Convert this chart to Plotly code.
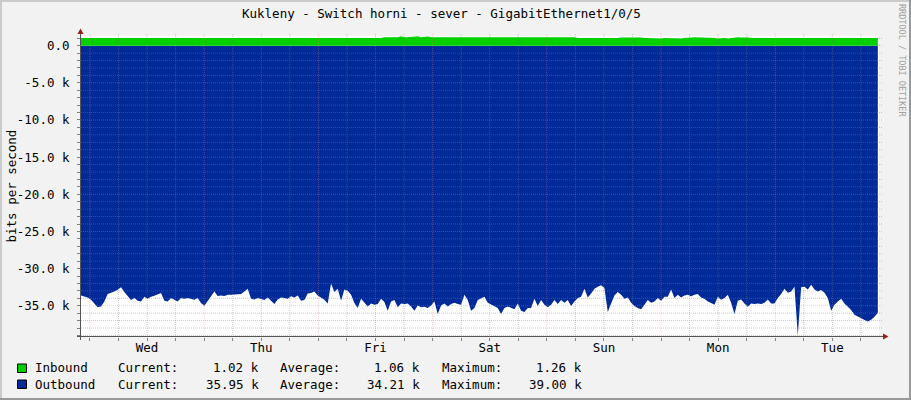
#!/usr/bin/env python3
# -*- coding: utf-8 -*-
"""
RRDtool-style traffic graph (Cacti look) for one switch port, redrawn with Plotly.
Inbound is drawn up from zero, outbound is mirrored below zero.

Output: out.html
"""

import plotly.graph_objects as go

# ── data (kbit/s, one sample every ~42 min) ───────────────────────────────────
inbound_k = [
    1.03, 1.03, 0.96, 1.03, 1.02, 0.96, 1.03, 1.03, 0.96, 1.04, 1.03, 0.96,
    1.03, 1.03, 0.96, 1.03, 1.02, 0.96, 1.03, 1.03, 0.96, 1.04, 1.03, 0.96,
    1.03, 1.03, 0.96, 1.03, 1.02, 0.96, 1.03, 1.03, 0.96, 1.04, 1.03, 0.96,
    1.03, 1.03, 0.96, 1.03, 1.02, 0.96, 1.03, 1.03, 0.96, 1.04, 1.03, 0.96,
    1.03, 1.03, 0.96, 1.03, 1.02, 0.96, 1.03, 1.03, 0.96, 1.04, 1.03, 0.96,
    1.03, 1.03, 0.96, 1.03, 1.02, 0.96, 1.03, 1.03, 0.96, 1.04, 1.03, 0.96,
    1.03, 1.03, 0.96, 1.03, 1.02, 0.96, 1.03, 1.03, 0.96, 1.04, 1.03, 0.96,
    1.03, 1.03, 0.96, 1.03, 1.02, 0.96, 1.03,
    1.14, 1.15, 1.15, 1.16, 1.15, 1.26, 1.15, 1.15, 1.16, 1.15, 1.26, 1.15,
    1.16, 1.25, 1.15, 1.15, 1.16, 1.15, 1.15, 1.16, 1.24, 1.15, 1.15, 1.24,
    1.15, 1.16, 1.15, 1.15, 1.16, 1.15, 1.15, 1.16, 1.15, 1.15, 1.16, 1.15,
    1.15, 1.16, 1.15, 1.15, 1.16, 1.15, 1.15, 1.16, 1.15, 1.15, 1.16, 1.15,
    1.15, 1.16, 1.15, 1.15, 1.16, 1.15, 1.15, 1.16, 1.15, 1.15,
    1.03, 1.03, 0.96, 1.03, 1.03, 0.96, 1.03, 1.03, 0.96, 1.03, 1.03, 0.96,
    1.03,
    1.12, 1.13, 1.12, 1.12, 1.13, 1.12, 1.12,
    1.04, 1.03, 0.97, 1.04, 1.03, 0.97, 1.04, 1.03, 0.97, 1.04, 1.03, 0.97,
    1.04, 1.03,
    1.12, 1.13, 1.12, 1.12, 1.13, 1.12,
    1.04, 1.03, 0.97, 1.04, 1.03, 0.97, 1.04,
    1.12, 1.13, 1.12, 1.13, 1.12,
    1.03, 1.03, 0.96, 1.03, 1.02, 0.96, 1.03, 1.03, 0.96, 1.04, 1.03, 0.96,
    1.03, 1.03, 0.96, 1.03, 1.02, 0.96, 1.03, 1.03, 0.96, 1.04, 1.03, 0.96,
    1.03, 1.03, 0.96, 1.03, 1.02, 0.96, 1.03, 1.03, 0.96, 1.04, 1.03, 0.96,
    1.03, 1.03, 1.02,
]

outbound_k = [
    33.61, 33.79, 33.88, 34.19, 34.64, 35.22, 35.09, 34.42, 33.43, 33.30,
    33.07, 32.85, 32.53, 33.16, 33.74, 34.24, 33.97, 34.33, 34.42, 33.79,
    34.06, 33.79, 33.65, 33.43, 33.30, 34.33, 34.42, 33.97, 34.24, 34.42,
    33.97, 34.06, 33.97, 34.06, 34.19, 33.97, 34.64, 35.00, 34.33, 33.74,
    33.07, 33.70, 33.61, 33.70, 33.52, 33.52, 33.52, 33.43, 33.43, 33.07,
    32.71, 34.06, 34.15, 33.97, 34.06, 34.24, 33.88, 34.33, 34.78, 34.15,
    33.88,
    33.97, 34.06, 33.74, 33.88, 33.61, 34.33, 34.24, 33.34, 33.30, 33.07,
    33.61, 33.88, 34.19, 34.69, 32.00, 33.16, 32.71, 34.33, 32.80, 32.98,
    33.52, 34.64, 35.31, 34.06, 34.51, 35.09, 34.69, 34.87, 34.78, 34.06,
    34.51, 35.67, 34.42, 34.24, 35.22, 34.69, 34.78, 34.69, 35.09, 35.67,
    34.96, 35.22, 35.13, 35.31, 34.96, 34.42, 36.12, 34.96, 34.69, 35.09,
    34.78, 34.60, 34.78, 34.87, 33.52, 34.24, 35.67, 35.31, 34.24, 33.97,
    33.79, 34.60, 34.87, 35.09, 35.31, 36.12, 35.31, 35.09, 35.31, 35.49,
    34.69, 35.67, 35.85, 35.31, 35.31, 34.06, 35.04, 34.24, 34.87, 35.22,
    34.87, 34.24, 34.78, 34.24, 34.60, 34.24, 35.04, 34.42, 33.97, 33.79,
    32.71, 33.88, 33.34, 32.71, 32.44, 32.26, 32.62, 35.85, 34.69, 33.61,
    33.16, 33.52, 34.06, 33.88, 34.60, 35.04, 35.31, 35.49, 34.87, 34.24,
    34.60, 34.42, 33.97, 34.33, 33.79, 33.79, 32.80, 33.97, 33.52, 33.88,
    33.61, 33.52, 33.74, 33.52, 33.43, 33.88, 34.06, 34.42, 34.64, 34.87,
    33.79, 34.19, 33.97, 33.52, 34.60, 36.12, 34.33, 34.15, 34.69, 35.13,
    34.69, 34.78, 34.69, 34.78, 34.60, 34.15, 34.69, 34.69, 33.97, 33.43,
    32.71, 33.25, 33.07, 32.44, 39.00, 32.53, 32.44, 32.80, 32.17, 32.80,
    33.07, 32.89, 33.25, 33.97, 35.67, 34.87, 34.42, 34.06, 34.69, 35.13,
    35.58, 36.21, 36.48, 36.66, 36.93, 37.11, 36.88, 36.48, 35.95,
]

# hours relative to Wednesday 00:00
T0_H = -1.89
STEP_H = 0.7006
X_RANGE = [-1.89, 165.8]
Y_RANGE = [-39210, 1306]

day_labels = ["Wed", "Thu", "Fri", "Sat", "Sun", "Mon", "Tue"]
day_noon_h = [12, 36, 60, 84, 108, 132, 156]
ytick_vals = [0, -5000, -10000, -15000, -20000, -25000, -30000, -35000]
ytick_text = ["0.0", "-5.0 k", "-10.0 k", "-15.0 k", "-20.0 k",
              "-25.0 k", "-30.0 k", "-35.0 k"]

legend_names = ["Inbound", "Outbound"]
legend_colors = ["#00cf00", "#002a97"]
legend_current = ["1.02 k", "35.95 k"]
legend_average = ["1.06 k", "34.21 k"]
legend_maximum = ["1.26 k", "39.00 k"]

TITLE = "Kukleny - Switch horni - sever - GigabitEthernet1/0/5"

# ── geometry (pixels of the 911x400 image) ───────────────────────────────────
W, H = 911, 400
PL, PR, PT, PB = 81, 879, 36, 337
FONT = "DejaVu Sans Mono"
FS = 12.5

MINOR_GRID = "rgba(128,128,128,0.42)"
MAJOR_GRID = "rgba(255,110,110,0.38)"
AXIS_COL = "#555555"
ARROW_COL = "#9b1c1c"


def fx(px):
    return (px - PL) / (PR - PL)


def fy(py):
    return (PB - py) / (PB - PT)


def hx(h):
    return (h - X_RANGE[0]) / (X_RANGE[1] - X_RANGE[0])


def vy(v):
    return (v - Y_RANGE[0]) / (Y_RANGE[1] - Y_RANGE[0])


hours = [T0_H + STEP_H * i for i in range(len(outbound_k))]

fig = go.Figure()

# outbound below zero
fig.add_trace(go.Scatter(
    x=hours, y=[-v * 1000 for v in outbound_k],
    mode="lines", line=dict(width=0, color="#002a97"),
    fill="tozeroy", fillcolor="#002a97", name="Outbound",
))
# inbound above zero
fig.add_trace(go.Scatter(
    x=hours[:len(inbound_k)], y=[v * 1000 for v in inbound_k],
    mode="lines", line=dict(width=0, color="#00cf00"),
    fill="tozeroy", fillcolor="#00cf00", name="Inbound",
))

# ── grid drawn over the areas, like rrdtool does ─────────────────────────────
shapes = []
grid_dash = "1px,1px"
for v in range(-39000, 1001, 1000):
    if v % 5000:
        shapes.append(dict(type="line", xref="paper", yref="paper",
                           x0=0, x1=fx(883), y0=vy(v), y1=vy(v),
                           line=dict(color=MINOR_GRID, width=1, dash=grid_dash),
                           layer="above"))
for h in range(0, 166, 6):
    if h % 24:
        shapes.append(dict(type="line", xref="paper", yref="paper",
                           x0=hx(h), x1=hx(h), y0=0, y1=fy(33.5),
                           line=dict(color=MINOR_GRID, width=1, dash=grid_dash),
                           layer="above"))
for v in ytick_vals:
    shapes.append(dict(type="line", xref="paper", yref="paper",
                       x0=0, x1=fx(883), y0=vy(v), y1=vy(v),
                       line=dict(color=MAJOR_GRID, width=1, dash=grid_dash),
                       layer="above"))
for h in range(0, 166, 24):
    shapes.append(dict(type="line", xref="paper", yref="paper",
                       x0=hx(h), x1=hx(h), y0=0, y1=fy(33.5),
                       line=dict(color=MAJOR_GRID, width=1, dash=grid_dash),
                       layer="above"))

# axes with red arrow heads
shapes.append(dict(type="line", xref="paper", yref="paper",
                   x0=fx(80.5), x1=fx(80.5), y0=fy(340), y1=fy(33),
                   line=dict(color=AXIS_COL, width=1), layer="above"))
shapes.append(dict(type="line", xref="paper", yref="paper",
                   x0=fx(77), x1=fx(884), y0=fy(336.5), y1=fy(336.5),
                   line=dict(color=AXIS_COL, width=1), layer="above"))
shapes.append(dict(type="path", xref="paper", yref="paper",
                   path=f"M {fx(80.5)},{fy(28.5)} L {fx(77.5)},{fy(34)} "
                        f"L {fx(83.5)},{fy(34)} Z",
                   fillcolor=ARROW_COL, line=dict(width=0), layer="above"))
shapes.append(dict(type="path", xref="paper", yref="paper",
                   path=f"M {fx(888.5)},{fy(336.5)} L {fx(883)},{fy(333.5)} "
                        f"L {fx(883)},{fy(339.5)} Z",
                   fillcolor=ARROW_COL, line=dict(width=0), layer="above"))

# 3D frame round the image
shapes += [
    dict(type="rect", xref="paper", yref="paper", x0=fx(0), x1=fx(W),
         y0=fy(0), y1=fy(2), fillcolor="#cbcbcb", line=dict(width=0)),
    dict(type="rect", xref="paper", yref="paper", x0=fx(0), x1=fx(2),
         y0=fy(0), y1=fy(H), fillcolor="#cbcbcb", line=dict(width=0)),
    dict(type="rect", xref="paper", yref="paper", x0=fx(W - 2), x1=fx(W),
         y0=fy(0), y1=fy(H), fillcolor="#999999", line=dict(width=0)),
    dict(type="rect", xref="paper", yref="paper", x0=fx(0), x1=fx(W),
         y0=fy(H - 2), y1=fy(H), fillcolor="#999999", line=dict(width=0)),
]

# legend squares
for row, color in enumerate(legend_colors):
    top = 364 + row * 16
    shapes.append(dict(type="rect", xref="paper", yref="paper",
                       x0=fx(17.5), x1=fx(26.5), y0=fy(top), y1=fy(top + 8.5),
                       fillcolor=color, line=dict(color="#000000", width=1)))

# ── texts ────────────────────────────────────────────────────────────────────
annotations = [
    dict(text=TITLE, x=fx(441), y=fy(13.5), xanchor="center", yanchor="middle"),
    dict(text="bits per second", x=fx(11), y=fy(186.5), textangle=-90,
         xanchor="center", yanchor="middle"),
    dict(text="RRDTOOL / TOBI OETIKER", x=fx(902), y=fy(60), textangle=90,
         xanchor="center", yanchor="middle",
         font=dict(family=FONT, size=8.5, color="#a0a0a0")),
]
for row in range(len(legend_names)):
    yc = fy(368 + row * 16)
    cols = [
        (legend_names[row], 34, "left"),
        ("Current:", 117, "left"),
        (legend_current[row], 260, "right"),
        ("Average:", 279, "left"),
        (legend_average[row], 421, "right"),
        ("Maximum:", 441, "left"),
        (legend_maximum[row], 583, "right"),
    ]
    for text, px, anchor in cols:
        annotations.append(dict(text=text, x=fx(px), y=yc,
                                xanchor=anchor, yanchor="middle"))
for a in annotations:
    a.setdefault("xref", "paper")
    a.setdefault("yref", "paper")
    a.setdefault("showarrow", False)
    a.setdefault("borderpad", 0)
    a.setdefault("font", dict(family=FONT, size=FS, color="#000000"))

fig.update_layout(
    width=W, height=H,
    margin=dict(l=PL, r=W - PR, t=PT, b=H - PB, pad=0),
    paper_bgcolor="#f2f2f2",
    plot_bgcolor="#ffffff",
    showlegend=False,
    font=dict(family=FONT, size=FS, color="#000000"),
    shapes=shapes,
    annotations=annotations,
    hovermode=False,
)
fig.update_xaxes(
    range=X_RANGE, showgrid=False, zeroline=False, showline=False,
    tickvals=day_noon_h, ticktext=day_labels,
    ticks="outside", ticklen=3, tickcolor="#808080",
    minor=dict(ticks="outside", dtick=6, tick0=0, ticklen=3, tickcolor="#808080"),
    tickfont=dict(family=FONT, size=FS, color="#000000"),
    ticklabelstandoff=-4,
    fixedrange=True,
)
fig.update_yaxes(
    range=Y_RANGE, showgrid=False, zeroline=False, showline=False,
    tickvals=ytick_vals, ticktext=ytick_text,
    ticks="outside", ticklen=3, tickcolor="#808080",
    minor=dict(ticks="outside", dtick=1000, tick0=0, ticklen=3, tickcolor="#808080"),
    tickfont=dict(family=FONT, size=FS, color="#000000"),
    ticklabelstandoff=5,
    fixedrange=True,
)

# the page must show the figure flush at the top-left corner, as the png was
fig.write_html(
    "out.html",
    config={"displayModeBar": False},
    post_script="document.body.style.margin='0';",
)
